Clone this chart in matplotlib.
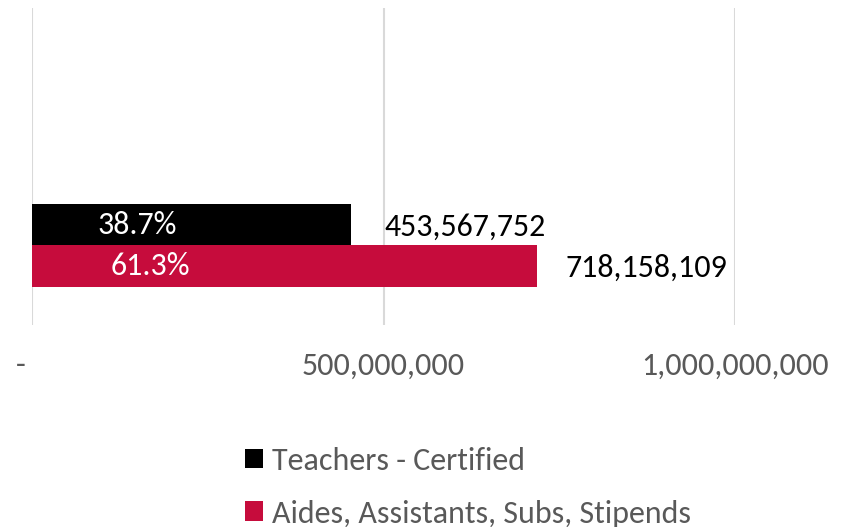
import numpy as np
import matplotlib
matplotlib.use('Agg')
import matplotlib.pyplot as plt
from matplotlib.patches import Patch

# ── Data ──────────────────────────────────────────────────────────────────────
series   = ['Teachers - Certified', 'Aides, Assistants, Subs, Stipends']
values   = [453567752, 718158109]
pct_text = ['38.7%', '61.3%']
pct_x    = [149e6, 168e6]          # where the percent labels sit (data units)
lbl_off  = [4.8e7, 4.1e7]          # gap between bar end and value label
colors   = ['#000000', '#C60C3C']
ticks    = [0, 500_000_000, 1_000_000_000]
tick_lbl = ['-   ', '500,000,000', '1,000,000,000']

plt.rcParams['font.family'] = ['Carlito', 'Lato', 'DejaVu Sans']
FS = 23

fig = plt.figure(figsize=(8.41, 5.27), dpi=100)
ax = fig.add_axes([32 / 841, 1 - 325 / 527, (735 - 32) / 841, (325 - 8) / 527])

ypos = np.arange(len(series))
ax.barh(ypos, values, height=1.0, color=colors, zorder=3)

for y, v, p, px, off in zip(ypos, values, pct_text, pct_x, lbl_off):
    ax.text(px, y, p, color='white', fontsize=FS, ha='center', va='center',
            zorder=4)
    ax.text(v + off, y + 0.05, f'{v:,}', color='black', fontsize=FS,
            ha='left', va='center', zorder=4)

ax.set_xlim(0, 1_000_000_000)
ax.set_ylim(2.42, -5.22)
ax.set_xticks(ticks)
ax.set_xticklabels(tick_lbl, color='#595959', fontsize=FS)
ax.set_yticks([])
ax.tick_params(axis='x', length=0, pad=19)
ax.grid(axis='x', color='#D9D9D9', lw=1.5, zorder=0)
ax.set_axisbelow(True)
for sp in ax.spines.values():
    sp.set_visible(False)

handles = [Patch(facecolor=c, edgecolor='none') for c in colors]
fig.legend(handles, series, loc='upper left', bbox_to_anchor=(216 / 841, 1 - 418 / 527),
           frameon=False, fontsize=FS, labelcolor='#595959',
           handlelength=0.58, handleheight=0.58, handletextpad=0.28,
           labelspacing=0.78)

fig.savefig('out.png', dpi=100)
